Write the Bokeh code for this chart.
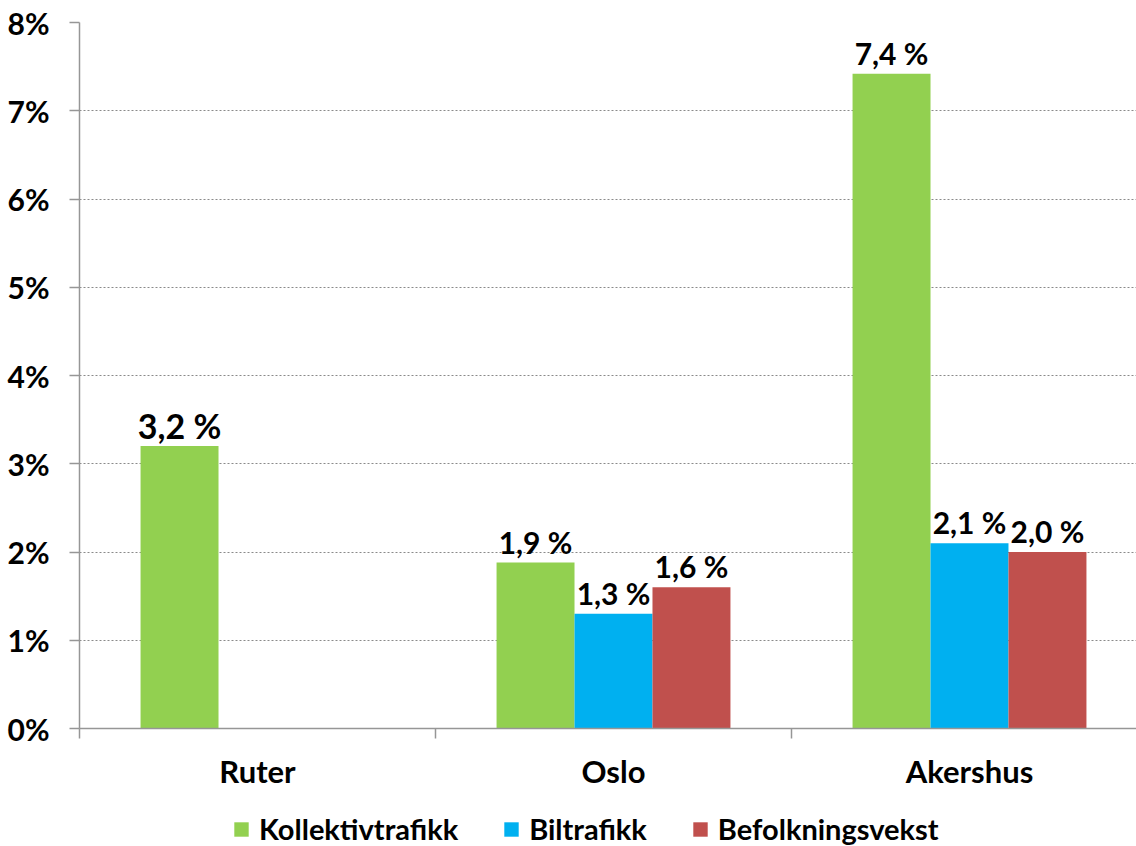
import math
from bokeh.plotting import figure
from bokeh.layouts import column
from bokeh.models import ColumnDataSource, FixedTicker, Legend, LegendItem
from bokeh.transform import dodge
from bokeh.core.properties import value
from bokeh.embed import file_html
from bokeh.resources import INLINE

categories = ["Ruter", "Oslo", "Akershus"]
series_names = ["Kollektivtrafikk", "Biltrafikk", "Befolkningsvekst"]
kollektiv = [3.2, 1.88, 7.42]
biltrafikk = [float("nan"), 1.3, 2.1]
befolkning = [float("nan"), 1.6, 2.0]
y_ticks = [0, 1, 2, 3, 4, 5, 6, 7, 8]
y_tick_labels = ["0%", "1%", "2%", "3%", "4%", "5%", "6%", "7%", "8%"]

colors = ["#92D050", "#00B0F0", "#C0504D"]
FONT = "Lato"
GRAY = "#969696"
BAR_W = 0.219

xc = [i + 0.5 for i in range(len(categories))]

chart = figure(width=1136, height=802, output_backend="svg", toolbar_location=None,
               x_range=(0, 1057 / 356), y_range=(0, 8),
               min_border_left=79, min_border_right=0, min_border_top=22, min_border_bottom=74)
chart.outline_line_color = None
chart.xgrid.grid_line_color = None
chart.ygrid.grid_line_color = "#8a8a8a"
chart.ygrid.grid_line_dash = "2 2"
chart.ygrid.grid_line_width = 1

# y axis
chart.yaxis.ticker = FixedTicker(ticks=y_ticks)
chart.yaxis.major_label_overrides = {t: l for t, l in zip(y_ticks, y_tick_labels)}
chart.yaxis.axis_line_color = GRAY
chart.yaxis.axis_line_width = 1.5
chart.yaxis.major_tick_line_color = GRAY
chart.yaxis.major_tick_line_width = 1.5
chart.yaxis.major_tick_out = 10
chart.yaxis.major_tick_in = 0
chart.yaxis.minor_tick_line_color = None
chart.yaxis.major_label_standoff = 20
chart.yaxis.major_label_text_font = FONT
chart.yaxis.major_label_text_font_style = "bold"
chart.yaxis.major_label_text_font_size = "30px"
chart.yaxis.major_label_text_color = "black"

# x axis
chart.xaxis.ticker = FixedTicker(ticks=xc, minor_ticks=list(range(len(categories) + 1)))
chart.xaxis.major_label_overrides = {x: c for x, c in zip(xc, categories)}
chart.xaxis.axis_line_color = GRAY
chart.xaxis.axis_line_width = 1.5
chart.xaxis.major_tick_line_color = None
chart.xaxis.major_tick_out = 0
chart.xaxis.major_tick_in = 0
chart.xaxis.minor_tick_line_color = GRAY
chart.xaxis.minor_tick_line_width = 1.5
chart.xaxis.minor_tick_out = 10
chart.xaxis.minor_tick_in = 0
chart.xaxis.major_label_standoff = 13
chart.xaxis.major_label_text_font = FONT
chart.xaxis.major_label_text_font_style = "bold"
chart.xaxis.major_label_text_font_size = "31px"
chart.xaxis.major_label_text_color = "black"


def fmt(v):
    return "" if math.isnan(v) else f"{v:.1f} %".replace(".", ",")


# legend strip below the chart (its own data range keeps the key glyphs out of view)
leg_fig = figure(width=1136, height=44, output_backend="svg", toolbar_location=None,
                 x_axis_type=None, y_axis_type=None, x_range=chart.x_range, y_range=(1000, 1001),
                 min_border_left=0, min_border_right=0, min_border_top=0, min_border_bottom=0)
leg_fig.outline_line_color = None
leg_fig.grid.grid_line_color = None

series = [kollektiv, biltrafikk, befolkning]
offsets = [-BAR_W, 0.0, BAR_W]
items = []
for name, vals, col, off in zip(series_names, series, colors, offsets):
    src = ColumnDataSource(dict(
        xc=xc, val=vals, lab=[fmt(v) for v in vals],
        fs=["34px" if (i == 0) else "30px" for i in range(len(vals))],
    ))
    chart.vbar(x=dodge("xc", off, range=chart.x_range), top="val", width=BAR_W, bottom=0,
               source=src, fill_color=col, line_color=None)
    chart.text(x=dodge("xc", off, range=chart.x_range), y="val", text="lab", source=src,
               text_align="center", text_baseline="alphabetic", y_offset=-21,
               text_font=value(FONT), text_font_style="bold", text_font_size="fs",
               text_color="black")
    key = leg_fig.vbar(x=dodge("xc", off, range=leg_fig.x_range), top="val", width=BAR_W,
                       bottom=0, source=src, fill_color=col, line_color=None)
    items.append(LegendItem(label=name, renderers=[key], index=2))

legend = Legend(items=items, orientation="horizontal", location=(153, 0),
                glyph_width=18, glyph_height=18, label_standoff=9, spacing=44,
                padding=0, margin=0, border_line_color=None, background_fill_alpha=0,
                label_text_font=FONT, label_text_font_style="bold",
                label_text_font_size="29px", label_text_color="black",
                label_height=22)
leg_fig.add_layout(legend)

p = column(chart, leg_fig, spacing=0)

open("out.html", "w").write(file_html(p, INLINE))
